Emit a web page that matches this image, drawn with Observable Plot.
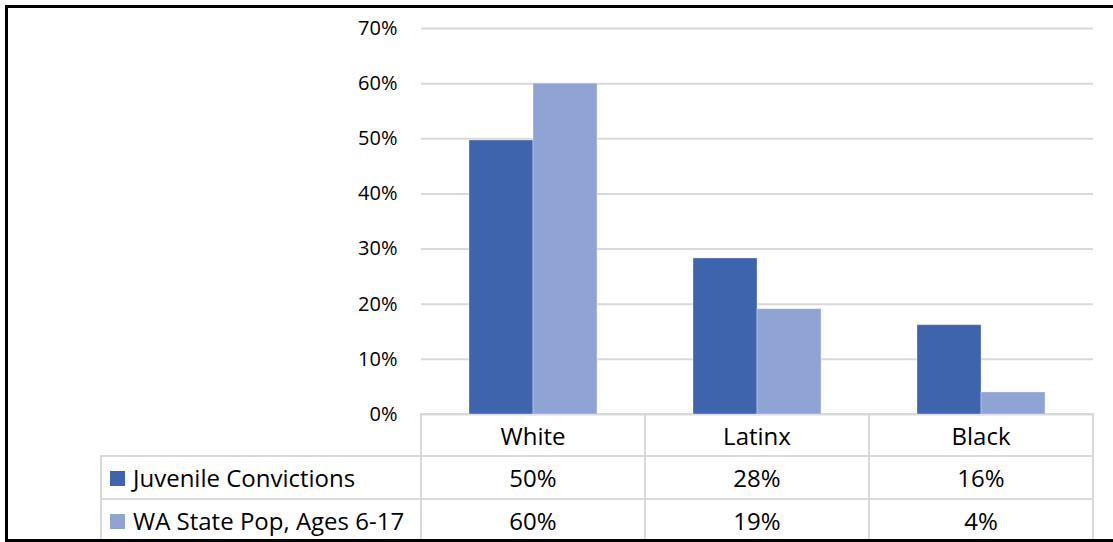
<!DOCTYPE html>
<html>
<head>
<meta charset="utf-8">
<script src="https://cdn.jsdelivr.net/npm/d3@7"></script>
<script src="https://cdn.jsdelivr.net/npm/@observablehq/plot@0.6"></script>
<style>
  html, body { margin: 0; padding: 0; background: #fff; overflow: hidden; }
  #wrap { position: relative; width: 1113px; height: 542px; font-family: "Open Sans", sans-serif; }
  #frame { position: absolute; left: 5px; top: 5px; width: 1200px; height: 537px; box-sizing: border-box;
           border: 3px solid #000; border-right: none; pointer-events: none; }
  #wrap svg { position: absolute; left: 0; top: 0; }
  table.dt { position: absolute; border-collapse: collapse; table-layout: fixed; font-size: 24px; color: #000; }
  table.dt td { border: 2px solid #d9d9d9; padding: 0; text-align: center; white-space: nowrap; overflow: hidden; }
  table.dt td.legend { text-align: left; padding-left: 8px; }
  table.dt .sw { display: inline-block; width: 15px; height: 15px; margin-right: 8px; vertical-align: middle; position: relative; top: -2px; }
</style>
</head>
<body>
<div id="wrap"><div id="frame"></div></div>
<script>
// ---- data ----
const categories = ["White", "Latinx", "Black"];
const seriesNames = ["Juvenile Convictions", "WA State Pop, Ages 6-17"];
const convictions = [0.497, 0.283, 0.162];
const statePop = [0.600, 0.191, 0.040];
const yTicks = [0, 0.1, 0.2, 0.3, 0.4, 0.5, 0.6, 0.7];
const colors = ["#3D64AD", "#8FA3D5"];

// ---- layout ----
const W = 1113, H = 542, mL = 421, mR = 20, mT = 28, mB = 128;
const legendColWidth = 320;
const rowHeights = [42, 43, 41];

const seriesValues = [convictions, statePop];
const data = categories.flatMap((c, i) =>
  seriesNames.map((s, j) => ({category: c, series: s, value: seriesValues[j][i]}))
);

const chart = Plot.plot({
  width: W, height: H,
  marginLeft: mL, marginRight: mR, marginTop: mT, marginBottom: mB,
  style: {fontFamily: "'Open Sans', sans-serif", fontSize: "20px", color: "#000", background: "transparent"},
  fx: {domain: categories, padding: 0, axis: null},
  x: {domain: seriesNames, paddingInner: 0, paddingOuter: 0.75, axis: null},
  y: {domain: [0, 0.7], axis: null},
  color: {domain: seriesNames, range: colors},
  marks: [
    Plot.gridY(yTicks, {stroke: "#d9d9d9", strokeOpacity: 1, strokeWidth: 2}),
    Plot.axisY(yTicks, {tickSize: 0, tickPadding: 24, tickFormat: ".0%", label: null, fontSize: 20, fill: "#000"}),
    Plot.barY(data, {fx: "category", x: "series", y: "value", fill: "series", stroke: "#ffffff", strokeOpacity: 0.35, strokeWidth: 1})
  ]
});
document.getElementById("wrap").appendChild(chart);

// ---- data table below the plot ----
const fmt = d3.format(".0%");
const colW = (W - mL - mR) / categories.length;
const table = document.createElement("table");
table.className = "dt";
table.style.left = (mL - legendColWidth - 1) + "px";
table.style.top = (H - mB - 1) + "px";
table.style.width = (legendColWidth + colW * categories.length) + "px";
const cg = document.createElement("colgroup");
[legendColWidth, ...categories.map(() => colW)].forEach(w => {
  const col = document.createElement("col"); col.style.width = w + "px"; cg.appendChild(col);
});
table.appendChild(cg);

const r0 = table.insertRow();
r0.style.height = rowHeights[0] + "px";
const c00 = r0.insertCell(); c00.style.border = "none";
categories.forEach(c => { const td = r0.insertCell(); td.textContent = c; });

seriesNames.forEach((s, j) => {
  const r = table.insertRow();
  r.style.height = rowHeights[j + 1] + "px";
  const lc = r.insertCell(); lc.className = "legend";
  const sw = document.createElement("span"); sw.className = "sw"; sw.style.background = colors[j];
  lc.appendChild(sw); lc.appendChild(document.createTextNode(s));
  seriesValues[j].forEach(v => { const td = r.insertCell(); td.textContent = fmt(v); });
});
// no bottom border (the frame covers the bottom edge)
Array.from(table.rows[table.rows.length - 1].cells).forEach(td => td.style.borderBottom = "none");
document.getElementById("wrap").insertBefore(table, document.getElementById("frame"));
</script>
</body>
</html>
